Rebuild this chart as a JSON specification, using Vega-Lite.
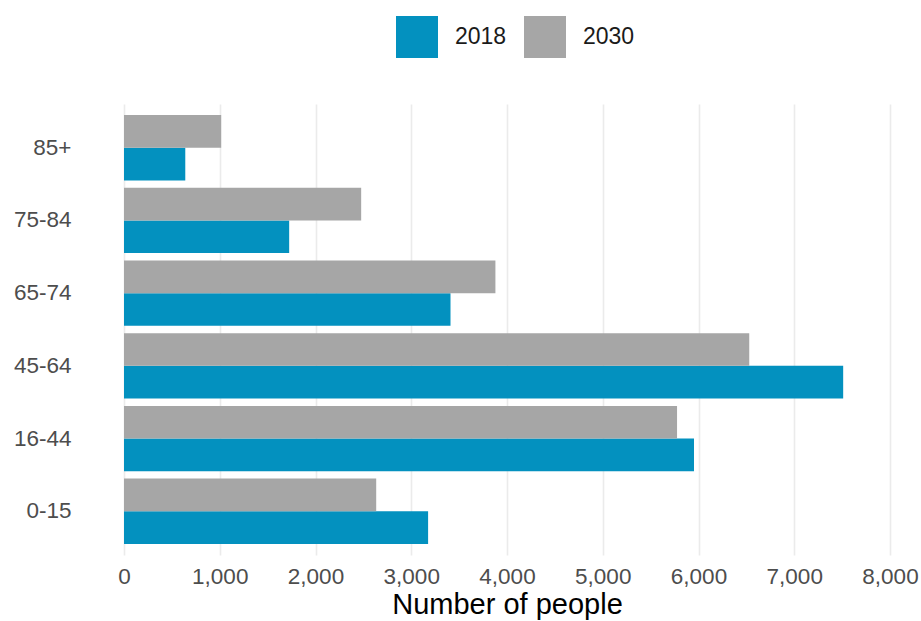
{
  "$schema": "https://vega.github.io/schema/vega-lite/v6.json",
  "width": 766,
  "height": 451,
  "autosize": {"type": "none"},
  "padding": {"left": 124, "top": 104, "right": 31, "bottom": 66},
  "background": "white",
  "config": {"font": "Liberation Sans", "view": {"stroke": null}},
  "data": {"values": [
    {"age": "85+", "year": "2018", "people": 640},
    {"age": "85+", "year": "2030", "people": 1015},
    {"age": "75-84", "year": "2018", "people": 1725},
    {"age": "75-84", "year": "2030", "people": 2477},
    {"age": "65-74", "year": "2018", "people": 3410},
    {"age": "65-74", "year": "2030", "people": 3879},
    {"age": "45-64", "year": "2018", "people": 7511},
    {"age": "45-64", "year": "2030", "people": 6530},
    {"age": "16-44", "year": "2018", "people": 5953},
    {"age": "16-44", "year": "2030", "people": 5776},
    {"age": "0-15", "year": "2018", "people": 3176},
    {"age": "0-15", "year": "2030", "people": 2634}
  ]},
  "mark": {"type": "bar"},
  "encoding": {
    "y": {
      "field": "age", "type": "nominal",
      "sort": ["85+", "75-84", "65-74", "45-64", "16-44", "0-15"],
      "scale": {"paddingInner": 0.1, "paddingOuter": 0.15},
      "axis": {"title": null, "ticks": false, "domain": false, "grid": false, "labelFontSize": 22.5, "labelColor": "#4D4D4D", "labelPadding": 53}
    },
    "yOffset": {
      "field": "year", "type": "nominal", "sort": ["2030", "2018"],
      "scale": {"paddingInner": 0, "paddingOuter": 0}
    },
    "x": {
      "field": "people", "type": "quantitative",
      "scale": {"domain": [0, 8000], "nice": false},
      "axis": {
        "values": [0, 1000, 2000, 3000, 4000, 5000, 6000, 7000, 8000],
        "format": ",.0f",
        "title": "Number of people",
        "titleFontSize": 29, "titleFontWeight": "normal", "titleColor": "#000000", "titlePadding": 3,
        "labelFontSize": 22.5, "labelColor": "#4D4D4D", "labelPadding": 10,
        "labelFlush": false, "labelBound": false, "labelOverlap": false,
        "ticks": false, "domain": false,
        "grid": true, "gridColor": "#EBEBEB", "gridWidth": 1.6
      }
    },
    "color": {
      "field": "year", "type": "nominal",
      "scale": {"domain": ["2018", "2030"], "range": ["#0391BF", "#A6A6A6"]},
      "legend": {
        "title": null, "orient": "none", "direction": "horizontal",
        "legendX": 272, "legendY": -88, "padding": 0,
        "symbolType": "square", "symbolSize": 1764, "symbolStrokeWidth": 0,
        "labelFontSize": 23, "labelColor": "#1A1A1A", "labelOffset": 17, "columnPadding": 17
      }
    }
  }
}
